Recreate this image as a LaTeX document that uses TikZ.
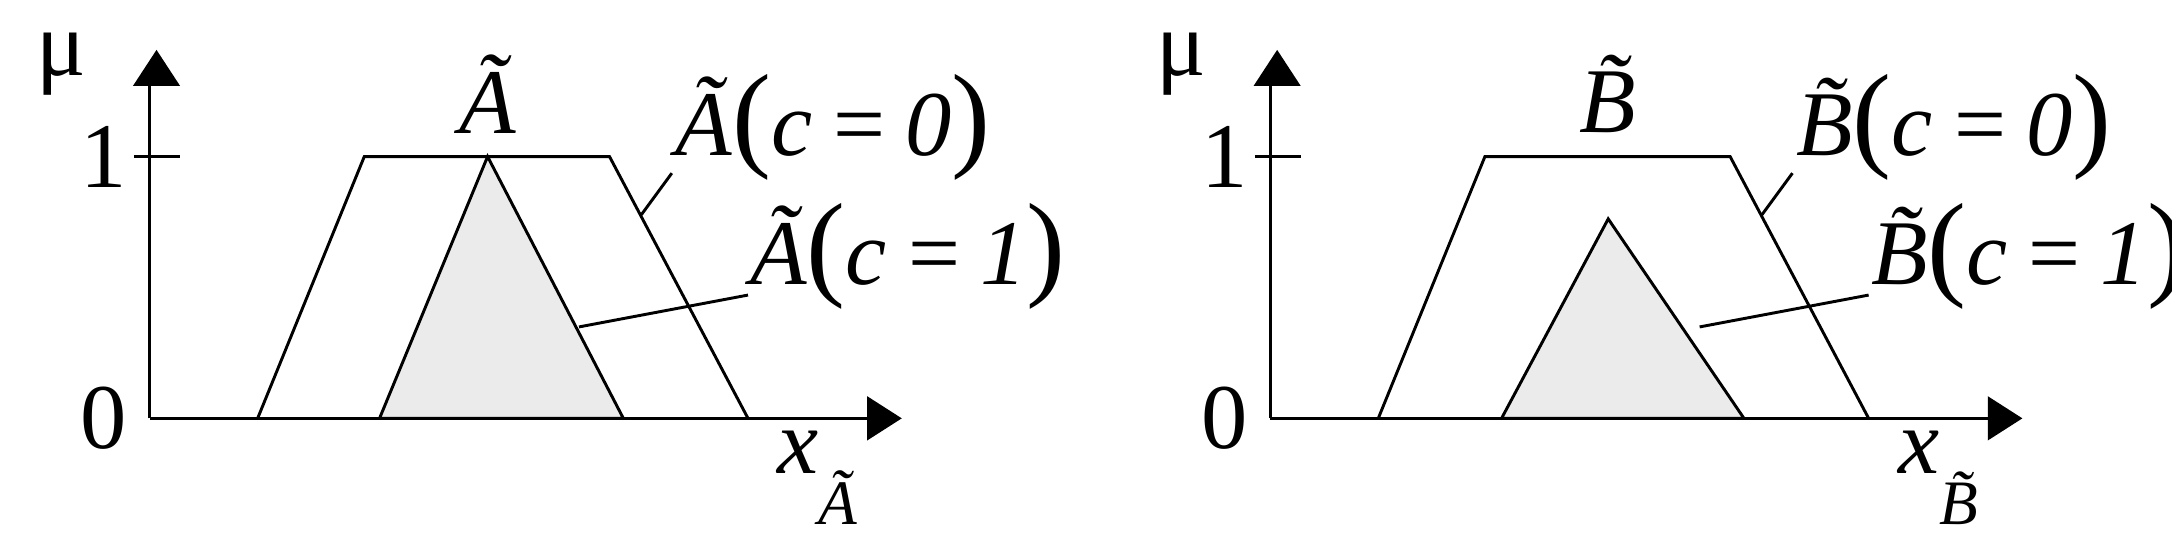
\documentclass[tikz,border=0pt]{standalone}
\usepackage{fontspec}
\setmainfont{Liberation Serif}
\newcommand{\bp}[1]{{\upshape\fontsize{24}{26}\selectfont #1}}
\newcommand{\lab}[2]{\~{\itshape #1}\bp{(}\textit{c}\,=\,#2\bp{)}}
\begin{document}
\begin{tikzpicture}[x=0.01cm,y=-0.01cm,
  ln/.style={line width=0.6pt},
  lbl/.style={font=\fontsize{19}{22}\selectfont,inner sep=0}]
\useasboundingbox (0,0) rectangle (1568,396);
\foreach \o/\L in {0/A, 809/B}{
  \begin{scope}[xshift=\o*0.01cm]
  \coordinate (O) at (108,302);
  \coordinate (Yt) at (108,62);
  \coordinate (Xt) at (626,302);
  \draw[ln] (O) -- (Yt);
  \draw[ln] (O) -- (Xt);
  \fill (96,62) -- (113,36) -- (130,62) -- cycle;
  \fill (626,286) -- (651,302) -- (626,318) -- cycle;
  \draw[ln] (97,113) -- (130,113);
  \node[lbl] (mu) at (44,46) {μ};
  \node[lbl] (one) at (75,113) {1};
  \node[lbl] (zero) at (75,302) {0};
  \ifnum\o=0
    \filldraw[ln,fill=black!8] (274,302) -- (352,113) -- (450,302) -- cycle;
  \else
    \filldraw[ln,fill=black!8] (1084-809,302) -- (352,158) -- (450,302) -- cycle;
  \fi
  \draw[ln] (186,302) -- (263,113) -- (440,113) -- (540,302);
  \node[lbl] (t) at (352,68) {\~{\itshape\L}};
  \node[lbl,anchor=west] (c0) at (487,92) {\lab{\L}{0}};
  \node[lbl,anchor=west] (c1) at (541,185) {\lab{\L}{1}};
  \draw[ln] (463,155) -- (485,125);
  \draw[ln] (418,236) -- (540,213);
  \node[lbl] (xl) at (590,345) {\textit{x}\raisebox{-1.2ex}{\fontsize{13}{15}\selectfont\~{\itshape\L}}};
  \end{scope}}
\end{tikzpicture}
\end{document}
